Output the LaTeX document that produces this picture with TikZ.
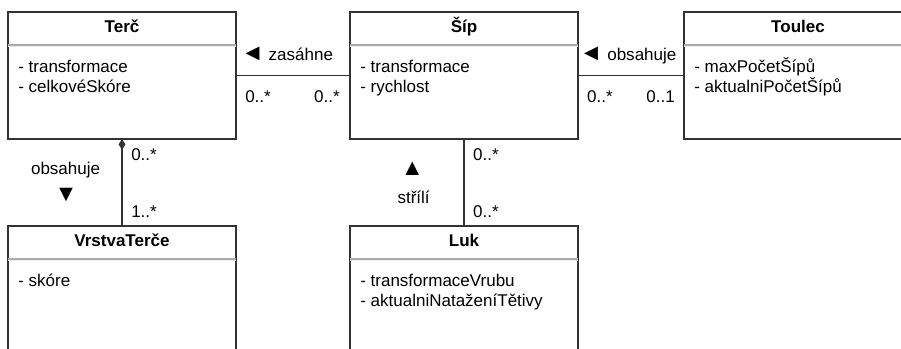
\documentclass[tikz,border=0pt]{standalone}
\usepackage{fontspec}
\setmainfont{Liberation Sans}
\usetikzlibrary{arrows.meta,positioning,calc}
\definecolor{umlline}{HTML}{333333}

\newcommand{\dirmark}[1]{{\fontsize{16.5pt}{18pt}\selectfont #1}}

\tikzset{
  umlclass/.style={draw=umlline, line width=1.1pt, outer sep=0pt, inner sep=0pt,
    minimum width=5.7cm, minimum height=3.175cm},
  classname/.style={anchor=base, inner sep=0pt, font=\fontsize{12.1pt}{14.2pt}\bfseries},
  attr/.style={anchor=base west, inner sep=0pt},
  mult/.style={inner sep=0pt},
  assoc/.style={draw=umlline, line width=1pt},
}

\begin{document}
\begin{tikzpicture}[font=\fontsize{12.1pt}{14.2pt}\selectfont]
  \useasboundingbox (0,0) rectangle (22.525,-8.725);
  \clip (0,0) rectangle (22.525,-8.725);

  % Classes
  \node[umlclass, anchor=north west] (terc) at (0.2,-0.3) {};
  \node[umlclass, right=2.85cm of terc] (sip) {};
  \node[umlclass, right=2.65cm of sip] (toulec) {};
  \node[umlclass, below=2.175cm of terc] (vrstva) {};
  \node[umlclass, below=2.175cm of sip] (luk) {};

  % header separators
  \foreach \c in {terc,sip,toulec,vrstva,luk} {
    \draw[gray!65, line width=1pt] ($(\c.north west)+(0,-0.825)$) -- ($(\c.north east)+(0,-0.825)$);
    \draw[gray!15, line width=0.8pt] ($(\c.north west)+(0,-0.87)$) -- ($(\c.north east)+(0,-0.87)$);
  }

  % names
  \node[classname] (tercname) at ($(terc.north)+(0,-0.51)$) {Terč};
  \node[classname] (sipname) at ($(sip.north)+(0,-0.51)$) {Šíp};
  \node[classname] (toulecname) at ($(toulec.north)+(0,-0.51)$) {Toulec};
  \node[classname] (vrstvaname) at ($(vrstva.north)+(0,-0.51)$) {VrstvaTerče};
  \node[classname] (lukname) at ($(luk.north)+(0,-0.51)$) {Luk};

  % attributes, one line each
  \foreach \a [count=\i] in {transformace, celkovéSkóre}
    \node[attr] (terc-a\i) at ($(terc.north west)+(0.25,-1.01-0.5*\i)$) {- \a};
  \foreach \a [count=\i] in {transformace, rychlost}
    \node[attr] (sip-a\i) at ($(sip.north west)+(0.25,-1.01-0.5*\i)$) {- \a};
  \foreach \a [count=\i] in {maxPočetŠípů, aktualniPočetŠípů}
    \node[attr] (toulec-a\i) at ($(toulec.north west)+(0.25,-1.01-0.5*\i)$) {- \a};
  \foreach \a [count=\i] in {skóre}
    \node[attr] (vrstva-a\i) at ($(vrstva.north west)+(0.25,-1.01-0.5*\i)$) {- \a};
  \foreach \a [count=\i] in {transformaceVrubu, aktualniNataženíTětivy}
    \node[attr] (luk-a\i) at ($(luk.north west)+(0.25,-1.01-0.5*\i)$) {- \a};

  % associations
  \draw[assoc] (terc) -- (sip);
  \draw[assoc] (sip) -- (toulec);
  \draw[assoc, {Diamond[length=0.27cm,width=0.17cm]}-] (terc) -- (vrstva);
  \draw[assoc] (sip) -- (luk);

  % labels, Terč -- Šíp
  \node[mult, anchor=base] (zasahne) at ($(terc.east)!0.5!(sip.west)+(-0.15,0.375)$) {\dirmark{◄} zasáhne};
  \node[mult, anchor=base west] (tsa) at ($(terc.east)+(0.225,-0.68)$) {0..*};
  \node[mult, anchor=base east] (tsb) at ($(sip.west)+(-0.25,-0.68)$) {0..*};

  % labels, Šíp -- Toulec
  \node[mult, anchor=base] (obsahujeh) at ($(sip.east)!0.5!(toulec.west)+(-0.075,0.375)$) {\dirmark{◄} obsahuje};
  \node[mult, anchor=base west] (sta) at ($(sip.east)+(0.22,-0.68)$) {0..*};
  \node[mult, anchor=base east] (stb) at ($(toulec.west)+(-0.225,-0.68)$) {0..1};

  % labels, Terč -- VrstvaTerče
  \node[mult, anchor=base west] (tva) at ($(terc.south)+(0.225,-0.54)$) {0..*};
  \node[mult, anchor=base west] (tvb) at ($(vrstva.north)+(0.225,0.22)$) {1..*};
  \node[mult, anchor=base] (obsahujev) at ($(terc.south)+(-1.41,-0.9)$) {obsahuje};
  \node[mult] (dolu) at ($(terc.south)+(-1.4,-1.41)$) {\dirmark{▼}};

  % labels, Šíp -- Luk
  \node[mult, anchor=base west] (sla) at ($(sip.south)+(0.22,-0.54)$) {0..*};
  \node[mult, anchor=base west] (slb) at ($(luk.north)+(0.22,0.22)$) {0..*};
  \node[mult] (nahoru) at ($(sip.south)+(-1.29,-0.74)$) {\dirmark{▲}};
  \node[mult, anchor=base] (strili) at ($(sip.south)+(-1.26,-1.625)$) {střílí};
\end{tikzpicture}
\end{document}
